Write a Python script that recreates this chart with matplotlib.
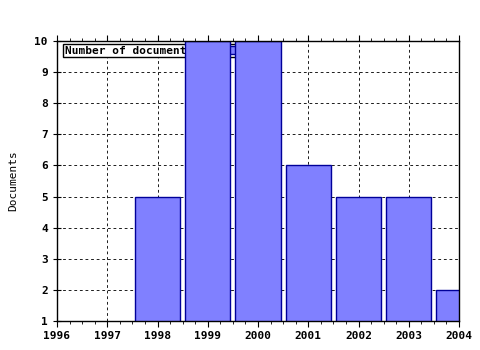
import matplotlib
matplotlib.use("Agg")
import matplotlib.pyplot as plt
from matplotlib.ticker import MultipleLocator

years = [1998, 1999, 2000, 2001, 2002, 2003, 2004]
documents = [5, 10, 10, 6, 5, 5, 2]
year_ticks = [1996, 1997, 1998, 1999, 2000, 2001, 2002, 2003, 2004]
doc_ticks = [1, 2, 3, 4, 5, 6, 7, 8, 9, 10]

plt.rcParams['font.family'] = 'DejaVu Sans Mono'
plt.rcParams['font.weight'] = 'bold'
plt.rcParams['font.size'] = 8

fig = plt.figure(figsize=(4.8, 3.5), dpi=100)
ax = fig.add_axes([57 / 480, 29 / 350, 402 / 480, 280 / 350])

bars = ax.bar(years, documents, width=0.9, color='#8080ff',
              edgecolor='#000099', linewidth=1, zorder=3,
              label='Number of documents')

ax.set_xlim(1996, 2004)
ax.set_ylim(1, 10)
ax.set_xticks(year_ticks)
ax.set_yticks(doc_ticks)
ax.xaxis.set_minor_locator(MultipleLocator(0.25))
ax.tick_params(axis='x', which='both', top=True, direction='out')
ax.tick_params(axis='x', which='major', length=4)
ax.tick_params(axis='x', which='minor', length=2)
ax.tick_params(axis='y', direction='inout', length=6)
ax.grid(True, which='major', color='#222222', linestyle=(0, (2.8, 2.8)),
        linewidth=0.72, zorder=0)
ax.set_axisbelow(True)
for s in ax.spines.values():
    s.set_linewidth(1)
    s.set_zorder(4)

ax.set_ylabel('Documents', labelpad=12)

leg = ax.legend(loc='upper left', bbox_to_anchor=(6 / 402, 1 - 3 / 280),
                borderaxespad=0, markerfirst=False, fancybox=False,
                framealpha=1, edgecolor='black', borderpad=0.15,
                handletextpad=2.2, handlelength=2.2)
leg.get_frame().set_linewidth(1)
leg.set_zorder(2)

fig.savefig('out.png', dpi=100)
